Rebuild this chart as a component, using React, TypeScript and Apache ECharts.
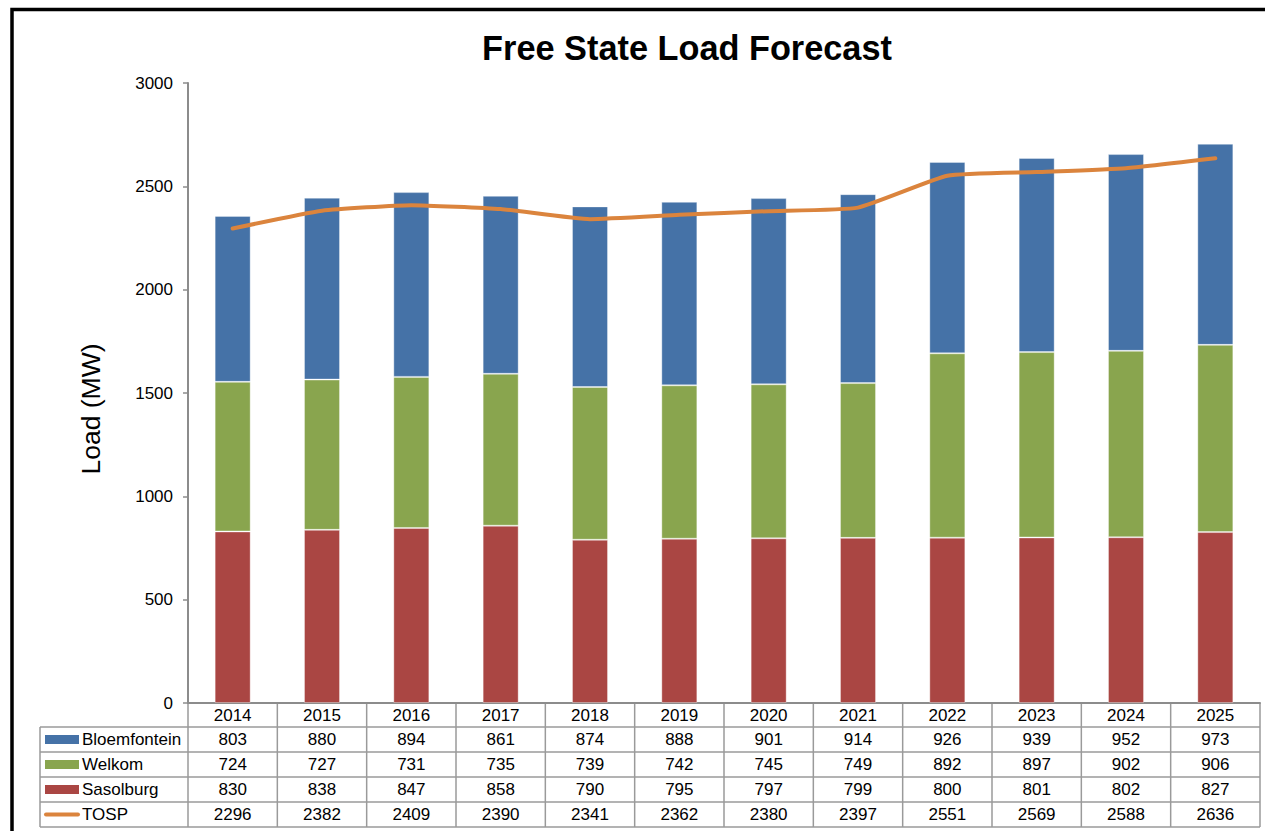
import React, { useEffect, useRef } from "react";
import * as echarts from "echarts";

// Forecast years and loads (MW) per supply area
const years = ["2014", "2015", "2016", "2017", "2018", "2019", "2020", "2021", "2022", "2023", "2024", "2025"];
const bloemfontein = [803, 880, 894, 861, 874, 888, 901, 914, 926, 939, 952, 973];
const welkom = [724, 727, 731, 735, 739, 742, 745, 749, 892, 897, 902, 906];
const sasolburg = [830, 838, 847, 858, 790, 795, 797, 799, 800, 801, 802, 827];
const tosp = [2296, 2382, 2409, 2390, 2341, 2362, 2380, 2397, 2551, 2569, 2588, 2636];

const FONT = "'Liberation Sans', Arial, Helvetica, sans-serif";
const BLUE = "#4572A7";
const GREEN = "#89A54E";
const RED = "#AA4643";
const ORANGE = "#DB843D";
const TABLE_LINE = "#9a9a9a";
const FS = 17;

const W = 1265;
const H = 831;
const GRID = { left: 188, top: 83, width: 1072, height: 620 };
const YEAR_ROW_BOTTOM = 727;
const ROW_H = 25;
const LEGEND_LEFT = 40;

type Row = { name: string; values: number[]; color: string; kind: "bar" | "line" };
const tableRows: Row[] = [
  { name: "Bloemfontein", values: bloemfontein, color: BLUE, kind: "bar" },
  { name: "Welkom", values: welkom, color: GREEN, kind: "bar" },
  { name: "Sasolburg", values: sasolburg, color: RED, kind: "bar" },
  { name: "TOSP", values: tosp, color: ORANGE, kind: "line" },
];

export default function App() {
  const ref = useRef<HTMLDivElement>(null);

  useEffect(() => {
    if (!ref.current) return;
    const chart = echarts.init(ref.current, null, { renderer: "svg", width: W, height: H });

    const barStyle = (color: string) => ({
      color,
      borderColor: "rgba(255,255,255,0.35)",
      borderWidth: 1,
    });

    chart.setOption({
      animation: false,
      backgroundColor: "#ffffff",
      textStyle: { fontFamily: FONT },
      title: {
        text: "Free State Load Forecast",
        left: 682,
        top: 26,
        textAlign: "center",
        textStyle: { fontFamily: FONT, fontSize: 34.3, fontWeight: "bold", color: "#000" },
      },
      grid: { ...GRID, containLabel: false },
      xAxis: {
        type: "category",
        data: years,
        boundaryGap: true,
        axisLine: { show: true, lineStyle: { color: "#8c8c8c", width: 2 } },
        axisTick: { show: false },
        axisLabel: { fontFamily: FONT, fontSize: FS, color: "#000", margin: 4 },
      },
      yAxis: {
        type: "value",
        min: 0,
        max: 3000,
        interval: 500,
        axisLine: { show: true, lineStyle: { color: "#8c8c8c", width: 2 } },
        axisTick: { show: true, length: 5, lineStyle: { color: "#8c8c8c", width: 1.5 } },
        axisLabel: {
          fontFamily: FONT,
          fontSize: FS,
          color: "#000",
          margin: 15,
          formatter: (v: number) => String(v),
        },
        splitLine: {
          show: true,
          lineStyle: {
            color: "#b0b0b0",
            width: 1.5,
            shadowColor: "rgba(0,0,0,0.15)",
            shadowOffsetY: 1.5,
            shadowBlur: 1,
          },
        },
      },
      series: [
        { name: "Sasolburg", type: "bar", stack: "load", data: sasolburg, barWidth: 36, itemStyle: barStyle(RED) },
        { name: "Welkom", type: "bar", stack: "load", data: welkom, barWidth: 36, itemStyle: barStyle(GREEN) },
        { name: "Bloemfontein", type: "bar", stack: "load", data: bloemfontein, barWidth: 36, itemStyle: barStyle(BLUE) },
        {
          name: "TOSP",
          type: "line",
          data: tosp,
          smooth: 0.15,
          showSymbol: false,
          symbol: "none",
          lineStyle: { color: ORANGE, width: 4, cap: "round" },
          z: 5,
        },
      ],
    });

    // Data table under the plot, aligned on the category axis positions
    const xs = years.map((y) => chart.convertToPixel({ xAxisIndex: 0 }, y) as number);
    const band = xs[1] - xs[0];
    const bounds = [...xs.map((x) => x - band / 2), xs[xs.length - 1] + band / 2];
    const xAxisY = GRID.top + GRID.height;
    const tableRight = bounds[bounds.length - 1];
    const tableBottom = YEAR_ROW_BOTTOM + ROW_H * tableRows.length;

    const lineEl = (x1: number, y1: number, x2: number, y2: number) => ({
      type: "line",
      shape: { x1, y1, x2, y2 },
      style: { stroke: TABLE_LINE, lineWidth: 1.5 },
      silent: true,
    });

    const elements: any[] = [];
    // axis title
    elements.push({
      type: "text",
      x: 91,
      y: 409,
      rotation: Math.PI / 2,
      style: {
        text: "Load (MW)",
        fontFamily: FONT,
        fontSize: 26.5,
        fill: "#000",
        textAlign: "center",
        textVerticalAlign: "middle",
      },
      silent: true,
    });
    // horizontal rules
    for (let r = 0; r <= tableRows.length; r++) {
      const y = YEAR_ROW_BOTTOM + r * ROW_H;
      elements.push(lineEl(LEGEND_LEFT, y, tableRight, y));
    }
    // vertical rules
    bounds.forEach((bx) => {
      elements.push(lineEl(bx, xAxisY, bx, tableBottom));
    });
    elements.push(lineEl(LEGEND_LEFT, YEAR_ROW_BOTTOM, LEGEND_LEFT, tableBottom));

    tableRows.forEach((row, r) => {
      const cy = YEAR_ROW_BOTTOM + r * ROW_H + ROW_H / 2;
      if (row.kind === "bar") {
        elements.push({
          type: "rect",
          shape: { x: 45, y: cy - 4.5, width: 34, height: 9 },
          style: { fill: row.color },
          silent: true,
        });
      } else {
        elements.push({
          type: "line",
          shape: { x1: 46, y1: cy, x2: 78, y2: cy },
          style: { stroke: row.color, lineWidth: 4, lineCap: "round" },
          silent: true,
        });
      }
      elements.push({
        type: "text",
        x: 82,
        y: cy,
        style: {
          text: row.name,
          fontFamily: FONT,
          fontSize: FS,
          fill: "#000",
          textAlign: "left",
          textVerticalAlign: "middle",
        },
        silent: true,
      });
      row.values.forEach((v, i) => {
        elements.push({
          type: "text",
          x: xs[i],
          y: cy,
          style: {
            text: String(v),
            fontFamily: FONT,
            fontSize: FS,
            fill: "#000",
            textAlign: "center",
            textVerticalAlign: "middle",
          },
          silent: true,
        });
      });
    });

    // outer frame (left and top edges fall inside the canvas)
    elements.push({
      type: "polyline",
      shape: { points: [[12, H + 10], [12, 9.5], [W + 10, 9.5]] },
      style: { stroke: "#000", lineWidth: 3.5, fill: "none" },
      silent: true,
      z: 100,
    });

    chart.setOption({ graphic: { elements } });

    return () => chart.dispose();
  }, []);

  return (
    <div
      ref={ref}
      style={{ position: "absolute", left: 0, top: 0, width: W, height: H, background: "#fff" }}
    />
  );
}
